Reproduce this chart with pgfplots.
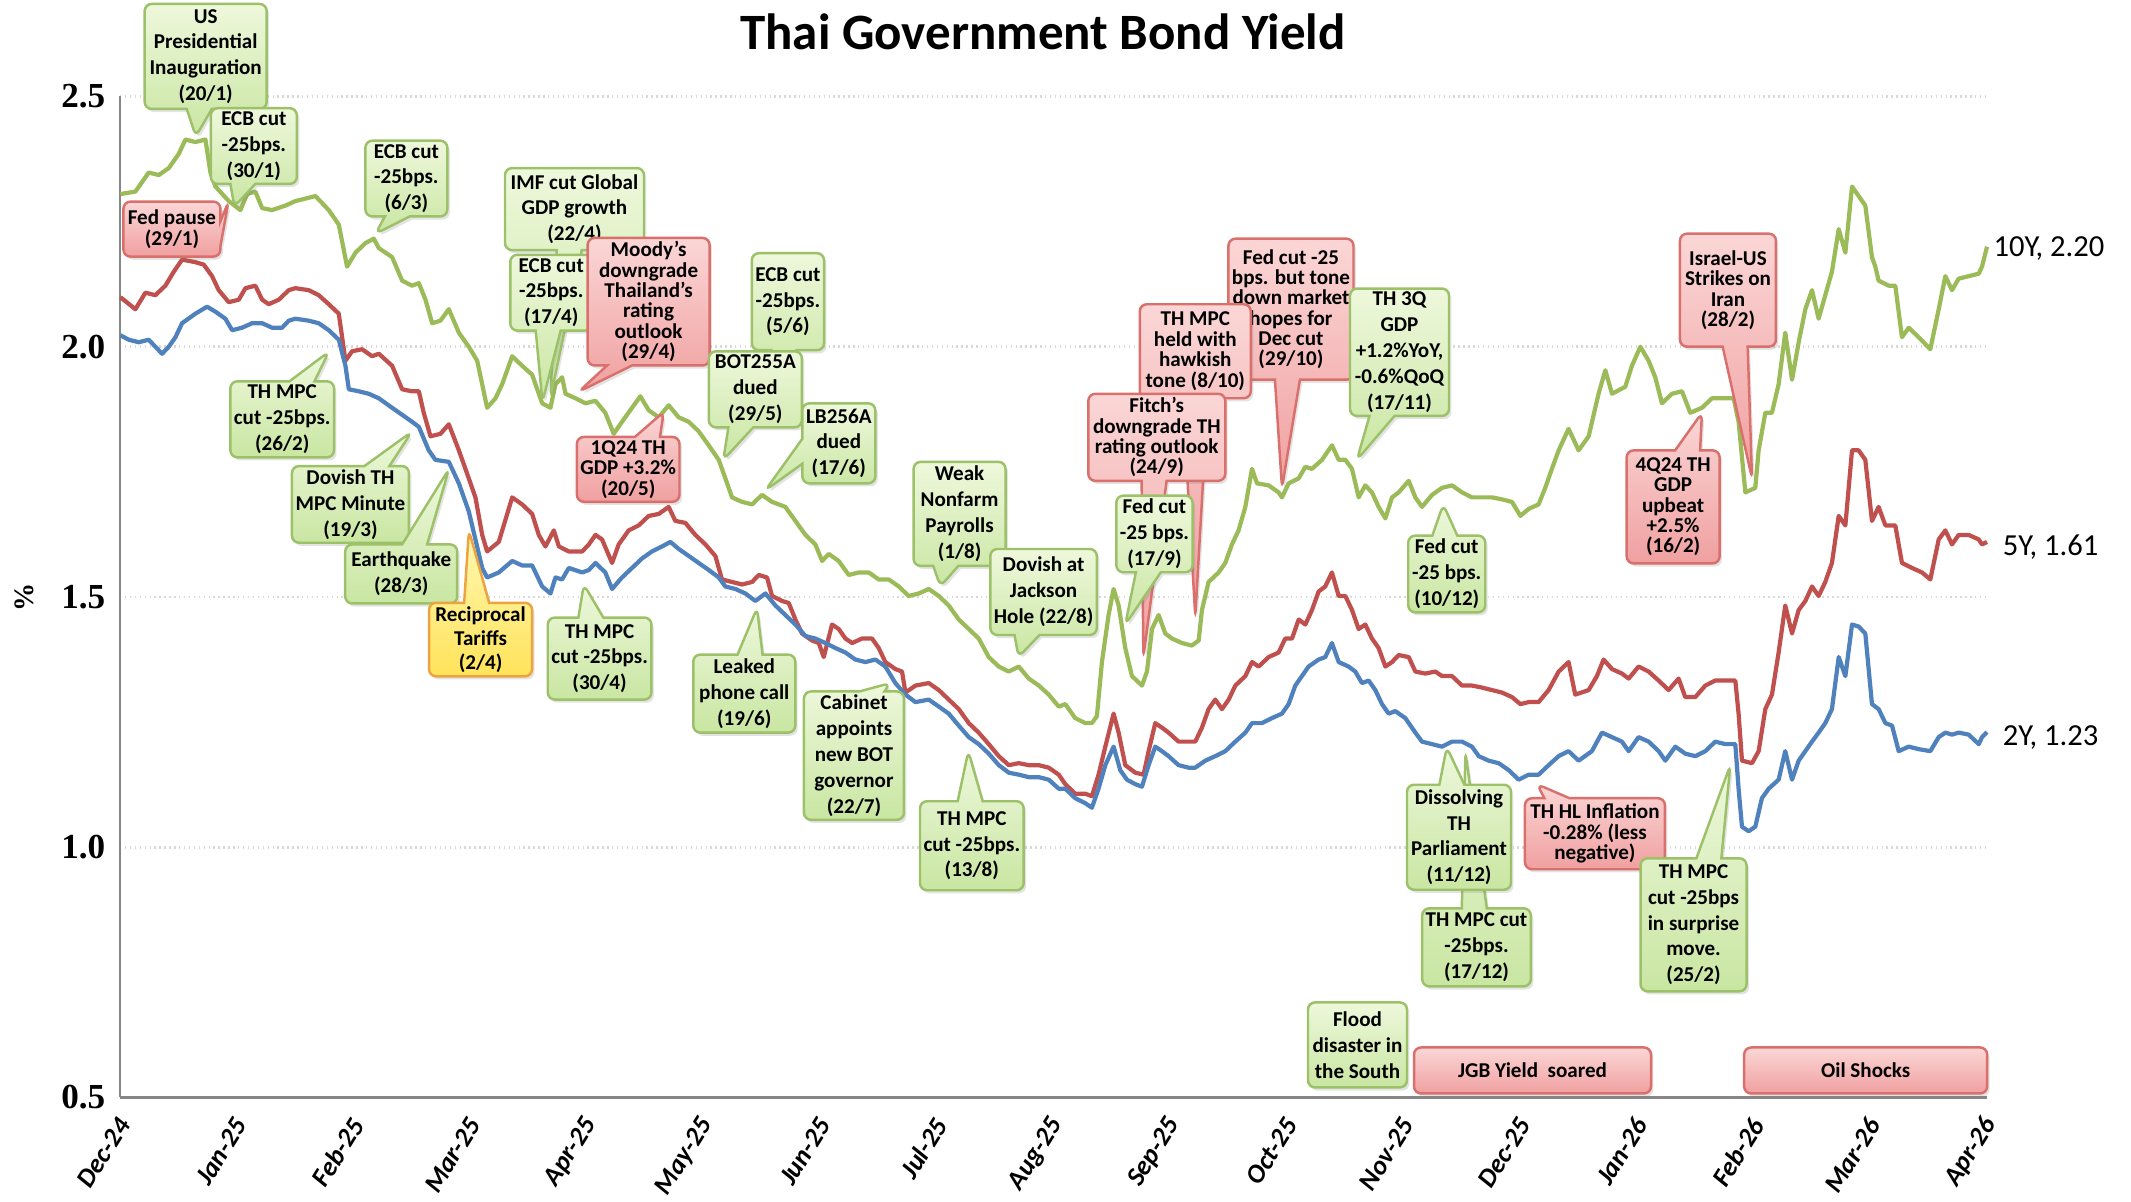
\documentclass[border=0pt]{standalone}
\usepackage{fontspec}
\setmainfont{Carlito}
\newfontfamily\tickserif{Liberation Serif}
\usepackage{pgfplots}
\pgfplotsset{compat=1.18}
\usetikzlibrary{shapes.callouts,shadows}

\definecolor{c10}{HTML}{9BBB59}
\definecolor{c5}{HTML}{C0504D}
\definecolor{c2}{HTML}{4F81BD}
\definecolor{gtop}{HTML}{EEF8DC}
\definecolor{gbot}{HTML}{C9E6A2}
\definecolor{gbd}{HTML}{9CC169}
\definecolor{rtop}{HTML}{FBD6D6}
\definecolor{rbot}{HTML}{F0A0A0}
\definecolor{rbd}{HTML}{D9706C}
\definecolor{ytop}{HTML}{FFF8B5}
\definecolor{ybot}{HTML}{FFE35A}
\definecolor{ybd}{HTML}{EDA33F}
\definecolor{gridc}{HTML}{D9D9D9}
\definecolor{axc}{HTML}{868686}

\tikzset{
 base/.style={rounded corners=2pt, line width=0.7pt, align=center, inner sep=1pt,
   drop shadow={shadow xshift=0.7pt, shadow yshift=-0.9pt, opacity=0.22}},
 gsty/.style={base, draw=gbd, top color=gtop, bottom color=gbot, font=\fontsize{6}{7.35}\selectfont\bfseries},
 rsty/.style={base, draw=rbd, top color=rtop, bottom color=rbot, font=\fontsize{6}{5.8}\selectfont\bfseries},
 ysty/.style={base, draw=ybd, top color=ytop, bottom color=ybot, font=\fontsize{6}{6.9}\selectfont\bfseries},
}
\newcommand\annG[5]{\node[gsty,rectangle callout,minimum width=#1cm,minimum height=#2cm,callout absolute pointer={(axis cs:#3)}] at (axis cs:#4) {#5};}
\newcommand\annR[5]{\node[rsty,rectangle callout,minimum width=#1cm,minimum height=#2cm,callout absolute pointer={(axis cs:#3)}] at (axis cs:#4) {#5};}
\newcommand\annY[5]{\node[ysty,rectangle callout,minimum width=#1cm,minimum height=#2cm,callout absolute pointer={(axis cs:#3)}] at (axis cs:#4) {#5};}
\newcommand\boxG[4]{\node[gsty,rectangle,minimum width=#1cm,minimum height=#2cm] at (axis cs:#3) {#4};}
\newcommand\boxR[4]{\node[rsty,rectangle,minimum width=#1cm,minimum height=#2cm] at (axis cs:#3) {#4};}

\begin{document}
\begin{tikzpicture}
\path[use as bounding box] (-1.20,-1.04) rectangle (20.11,10.975);
\begin{axis}[
  at={(0,0)}, anchor=south west,
  scale only axis, width=18.67cm, height=10.01cm,
  xmin=0, xmax=16, ymin=0.5, ymax=2.5,
  axis x line*=bottom, axis y line*=left,
  axis line style={draw=axc, line width=0.8pt},
  xtick={0,1,...,16},
  xticklabels={Dec-24,Jan-25,Feb-25,Mar-25,Apr-25,May-25,Jun-25,Jul-25,Aug-25,Sep-25,Oct-25,Nov-25,Dec-25,Jan-26,Feb-26,Mar-26,Apr-26},
  ytick={0.5,1,1.5,2,2.5},
  yticklabels={0.5,1.0,1.5,2.0,2.5},
  major tick length=0pt,
  ymajorgrids, grid style={densely dotted, gridc, line width=0.8pt},
  xticklabel style={xshift=1.5pt, yshift=-6pt, rotate=58, anchor=east, font=\fontsize{7.6}{7.6}\selectfont\bfseries\itshape, inner sep=0.5pt},
  yticklabel style={font=\tickserif\bfseries\fontsize{10}{10}\selectfont, inner sep=1pt, xshift=-3pt},
  ylabel={\%}, ylabel style={at={(axis description cs:-0.051,0.5)}, anchor=center, font=\tickserif\bfseries\fontsize{8}{8}\selectfont},
  clip=false,
  every axis plot/.append style={line width=1.2pt, line join=round, mark=none},
]
% 10Y
\addplot[c10] coordinates {
(0.003,2.305)(0.132,2.310)(0.246,2.348)(0.332,2.343)(0.418,2.357)(0.503,2.385)(0.561,2.414)(0.646,2.409)(0.732,2.414)(0.775,2.348)(0.818,2.320)(0.932,2.291)(1.032,2.273)(1.089,2.305)(1.160,2.310)(1.218,2.277)(1.303,2.273)(1.418,2.282)(1.503,2.291)(1.589,2.296)(1.675,2.301)(1.789,2.273)(1.875,2.244)(1.946,2.160)(2.018,2.188)(2.103,2.207)(2.175,2.216)(2.218,2.197)(2.332,2.179)(2.418,2.132)(2.503,2.122)(2.561,2.127)(2.618,2.094)(2.675,2.047)(2.746,2.052)(2.818,2.075)(2.904,2.028)(2.989,2.000)(3.061,1.972)(3.104,1.925)(3.146,1.878)(3.218,1.897)(3.275,1.925)(3.361,1.981)(3.446,1.962)(3.532,1.944)(3.618,1.887)(3.689,1.878)(3.732,1.925)(3.789,1.939)(3.818,1.906)(3.904,1.897)(3.989,1.887)
(4.074,1.892)(4.159,1.868)(4.231,1.826)(4.302,1.850)(4.388,1.878)(4.459,1.901)(4.531,1.873)(4.617,1.859)(4.702,1.883)(4.788,1.859)(4.874,1.850)(4.959,1.831)(5.045,1.803)(5.131,1.774)(5.188,1.737)(5.245,1.699)(5.331,1.690)(5.417,1.685)(5.502,1.704)(5.588,1.690)(5.702,1.680)(5.788,1.652)(5.874,1.624)(5.959,1.605)(6.017,1.572)(6.074,1.586)(6.159,1.572)(6.245,1.544)(6.331,1.549)(6.417,1.549)(6.502,1.535)(6.588,1.535)(6.674,1.521)(6.759,1.502)(6.845,1.507)(6.931,1.516)(7.017,1.502)(7.102,1.483)(7.188,1.455)(7.274,1.436)(7.359,1.417)(7.445,1.380)(7.531,1.361)(7.617,1.351)(7.702,1.361)(7.788,1.337)(7.874,1.323)(7.959,1.305)(8.045,1.281)
(8.101,1.286)(8.186,1.258)(8.272,1.248)(8.329,1.248)(8.372,1.262)(8.415,1.370)(8.472,1.464)(8.515,1.516)(8.558,1.483)(8.615,1.398)(8.672,1.342)(8.758,1.323)(8.801,1.351)(8.844,1.436)(8.901,1.464)(8.958,1.427)(9.015,1.417)(9.101,1.408)(9.186,1.403)(9.244,1.413)(9.272,1.474)(9.329,1.530)(9.415,1.549)(9.472,1.568)(9.529,1.605)(9.586,1.633)(9.644,1.680)(9.701,1.756)(9.744,1.727)(9.844,1.723)(9.929,1.709)(9.958,1.699)(10.015,1.727)(10.101,1.737)(10.158,1.760)(10.215,1.756)(10.301,1.774)(10.386,1.803)(10.444,1.774)(10.501,1.774)(10.558,1.756)(10.615,1.699)(10.672,1.723)(10.729,1.709)(10.786,1.680)(10.844,1.657)(10.901,1.699)(10.958,1.709)(11.044,1.732)(11.101,1.699)(11.158,1.680)(11.244,1.704)(11.329,1.718)(11.415,1.723)(11.501,1.709)(11.586,1.699)(11.672,1.699)(11.758,1.699)(11.844,1.695)(11.929,1.690)(12.001,1.662)(12.072,1.676)
(12.157,1.685)(12.214,1.718)(12.271,1.756)(12.329,1.793)(12.414,1.836)(12.500,1.793)(12.586,1.821)(12.671,1.906)(12.729,1.953)(12.786,1.906)(12.900,1.920)(12.957,1.962)(13.029,2.000)(13.100,1.972)(13.157,1.939)(13.214,1.887)(13.300,1.906)(13.386,1.911)(13.457,1.868)(13.557,1.878)(13.643,1.897)(13.729,1.897)(13.829,1.897)(13.871,1.850)(13.929,1.709)(14.014,1.718)(14.043,1.793)(14.100,1.868)(14.157,1.868)(14.214,1.925)(14.271,2.028)(14.329,1.934)(14.386,2.009)(14.443,2.075)(14.500,2.113)(14.557,2.056)(14.614,2.103)(14.671,2.150)(14.729,2.235)(14.786,2.188)(14.843,2.320)(14.900,2.301)(14.957,2.282)(15.014,2.179)(15.043,2.160)(15.071,2.132)(15.157,2.122)(15.214,2.122)(15.271,2.019)(15.329,2.038)(15.414,2.019)(15.514,1.995)(15.586,2.075)(15.643,2.141)(15.700,2.113)(15.757,2.136)(15.843,2.141)(15.929,2.146)(15.957,2.160)(16.000,2.200)
};
% 5Y
\addplot[c5] coordinates {
(0.003,2.099)(0.132,2.075)(0.218,2.108)(0.303,2.103)(0.389,2.122)(0.461,2.150)(0.532,2.174)(0.646,2.169)(0.718,2.164)(0.789,2.141)(0.846,2.113)(0.932,2.089)(1.018,2.094)(1.075,2.117)(1.160,2.122)(1.218,2.094)(1.275,2.085)(1.361,2.094)(1.446,2.113)(1.503,2.117)(1.618,2.113)(1.703,2.103)(1.789,2.085)(1.875,2.066)(1.932,1.972)(1.989,1.991)(2.075,1.995)(2.160,1.981)(2.218,1.986)(2.332,1.962)(2.418,1.915)(2.503,1.911)(2.561,1.911)(2.603,1.868)(2.661,1.821)(2.746,1.826)(2.818,1.845)(2.904,1.793)(2.989,1.737)(3.046,1.699)(3.104,1.624)(3.146,1.591)(3.246,1.610)(3.361,1.699)(3.446,1.685)(3.532,1.666)(3.589,1.624)(3.646,1.601)(3.718,1.633)(3.761,1.601)(3.846,1.591)(3.961,1.591)(4.018,1.605)(4.075,1.624)
(4.131,1.615)(4.217,1.568)(4.274,1.605)(4.359,1.633)(4.445,1.643)(4.531,1.662)(4.617,1.666)(4.702,1.680)(4.759,1.652)(4.845,1.648)(4.931,1.624)(5.017,1.605)(5.102,1.582)(5.159,1.535)(5.245,1.530)(5.331,1.525)(5.417,1.530)(5.474,1.544)(5.545,1.539)(5.588,1.502)(5.674,1.492)(5.731,1.488)(5.788,1.455)(5.845,1.427)(5.931,1.413)(5.988,1.408)(6.031,1.380)(6.102,1.445)(6.159,1.436)(6.217,1.417)(6.274,1.408)(6.359,1.417)(6.445,1.417)(6.502,1.398)(6.559,1.370)(6.645,1.356)(6.702,1.351)(6.731,1.309)(6.817,1.323)(6.931,1.328)(7.017,1.314)(7.102,1.295)(7.188,1.276)(7.274,1.248)(7.359,1.229)(7.445,1.206)(7.531,1.182)(7.617,1.164)(7.702,1.168)(7.788,1.164)(7.874,1.164)(7.959,1.159)(8.045,1.145)
(8.101,1.126)(8.186,1.107)(8.272,1.107)(8.329,1.102)(8.386,1.145)(8.444,1.201)(8.515,1.267)(8.558,1.229)(8.615,1.164)(8.701,1.149)(8.772,1.145)(8.815,1.192)(8.872,1.248)(8.929,1.239)(8.986,1.229)(9.072,1.211)(9.158,1.211)(9.215,1.211)(9.272,1.239)(9.329,1.276)(9.386,1.295)(9.444,1.276)(9.501,1.295)(9.558,1.323)(9.644,1.342)(9.701,1.370)(9.758,1.361)(9.844,1.380)(9.929,1.389)(9.986,1.417)(10.044,1.417)(10.101,1.455)(10.158,1.445)(10.215,1.474)(10.272,1.511)(10.329,1.521)(10.386,1.549)(10.444,1.502)(10.501,1.502)(10.558,1.474)(10.615,1.436)(10.672,1.445)(10.729,1.417)(10.786,1.398)(10.844,1.361)(10.901,1.370)(10.958,1.384)(11.044,1.380)(11.101,1.351)(11.186,1.347)(11.272,1.351)(11.329,1.342)(11.415,1.342)(11.501,1.323)(11.586,1.323)(11.672,1.319)(11.758,1.314)(11.844,1.309)(11.929,1.300)(12.001,1.286)(12.072,1.290)
(12.157,1.290)(12.243,1.314)(12.329,1.351)(12.414,1.370)(12.471,1.305)(12.586,1.314)(12.657,1.342)(12.714,1.375)(12.786,1.356)(12.871,1.347)(12.929,1.337)(13.014,1.361)(13.100,1.351)(13.186,1.333)(13.271,1.314)(13.357,1.337)(13.414,1.300)(13.500,1.300)(13.586,1.323)(13.671,1.333)(13.757,1.333)(13.843,1.333)(13.871,1.267)(13.900,1.173)(13.986,1.168)(14.043,1.192)(14.100,1.276)(14.157,1.305)(14.214,1.389)(14.271,1.483)(14.329,1.427)(14.386,1.474)(14.443,1.492)(14.500,1.521)(14.557,1.502)(14.614,1.530)(14.671,1.568)(14.729,1.662)(14.786,1.643)(14.843,1.793)(14.900,1.793)(14.957,1.774)(15.014,1.652)(15.071,1.680)(15.129,1.643)(15.214,1.643)(15.271,1.568)(15.357,1.558)(15.443,1.549)(15.514,1.535)(15.586,1.615)(15.643,1.633)(15.700,1.605)(15.757,1.624)(15.843,1.624)(15.929,1.615)(15.957,1.605)(16.000,1.610)
};
% 2Y
\addplot[c2] coordinates {
(0.003,2.023)(0.075,2.014)(0.161,2.009)(0.246,2.014)(0.303,2.000)(0.361,1.986)(0.418,2.000)(0.475,2.019)(0.532,2.047)(0.646,2.066)(0.746,2.080)(0.818,2.070)(0.903,2.056)(0.961,2.033)(1.046,2.038)(1.132,2.047)(1.218,2.047)(1.303,2.038)(1.389,2.038)(1.446,2.052)(1.503,2.056)(1.618,2.052)(1.703,2.047)(1.789,2.033)(1.875,2.014)(1.932,1.962)(1.961,1.915)(2.046,1.911)(2.132,1.906)(2.218,1.897)(2.332,1.878)(2.418,1.864)(2.503,1.850)(2.561,1.840)(2.646,1.793)(2.703,1.774)(2.818,1.770)(2.904,1.727)(2.989,1.671)(3.046,1.615)(3.104,1.558)(3.146,1.539)(3.246,1.549)(3.361,1.572)(3.446,1.563)(3.532,1.563)(3.618,1.521)(3.689,1.507)(3.732,1.539)(3.789,1.535)(3.846,1.558)(3.961,1.549)(4.018,1.554)(4.075,1.568)
(4.159,1.549)(4.217,1.516)(4.302,1.539)(4.388,1.558)(4.474,1.577)(4.559,1.591)(4.645,1.601)(4.717,1.610)(4.788,1.596)(4.874,1.582)(4.959,1.568)(5.045,1.554)(5.131,1.539)(5.188,1.521)(5.274,1.516)(5.359,1.507)(5.445,1.492)(5.531,1.507)(5.617,1.483)(5.702,1.464)(5.788,1.445)(5.874,1.422)(5.959,1.417)(6.045,1.408)(6.131,1.398)(6.217,1.389)(6.302,1.375)(6.388,1.370)(6.474,1.375)(6.559,1.361)(6.645,1.328)(6.731,1.305)(6.817,1.290)(6.931,1.295)(7.017,1.281)(7.102,1.267)(7.188,1.243)(7.274,1.220)(7.359,1.206)(7.445,1.187)(7.531,1.164)(7.617,1.149)(7.702,1.145)(7.788,1.140)(7.874,1.140)(7.959,1.135)(8.045,1.117)
(8.101,1.117)(8.186,1.098)(8.272,1.088)(8.329,1.079)(8.386,1.117)(8.444,1.164)(8.515,1.201)(8.572,1.154)(8.629,1.135)(8.701,1.126)(8.758,1.121)(8.815,1.164)(8.872,1.201)(8.929,1.192)(8.986,1.182)(9.072,1.164)(9.158,1.159)(9.215,1.159)(9.301,1.173)(9.386,1.182)(9.472,1.192)(9.558,1.211)(9.644,1.229)(9.701,1.248)(9.786,1.248)(9.872,1.258)(9.958,1.267)(10.015,1.286)(10.072,1.323)(10.129,1.342)(10.186,1.361)(10.272,1.375)(10.329,1.380)(10.386,1.408)(10.444,1.370)(10.529,1.361)(10.586,1.351)(10.644,1.328)(10.701,1.333)(10.758,1.314)(10.815,1.286)(10.872,1.267)(10.929,1.272)(11.015,1.258)(11.101,1.229)(11.158,1.211)(11.244,1.206)(11.329,1.201)(11.415,1.211)(11.501,1.211)(11.586,1.201)(11.644,1.182)(11.729,1.173)(11.815,1.168)(11.901,1.154)(11.986,1.135)(12.072,1.145)
(12.157,1.145)(12.243,1.164)(12.329,1.182)(12.414,1.192)(12.500,1.173)(12.614,1.192)(12.700,1.229)(12.786,1.220)(12.871,1.211)(12.929,1.192)(13.014,1.220)(13.100,1.211)(13.186,1.192)(13.243,1.173)(13.329,1.201)(13.414,1.187)(13.500,1.182)(13.586,1.192)(13.671,1.211)(13.757,1.206)(13.843,1.206)(13.871,1.117)(13.900,1.041)(13.957,1.032)(14.014,1.041)(14.071,1.098)(14.129,1.117)(14.214,1.135)(14.271,1.192)(14.329,1.135)(14.386,1.173)(14.443,1.192)(14.500,1.211)(14.557,1.229)(14.614,1.248)(14.671,1.276)(14.729,1.380)(14.786,1.342)(14.843,1.445)(14.900,1.441)(14.957,1.427)(15.014,1.286)(15.071,1.276)(15.129,1.248)(15.186,1.243)(15.243,1.192)(15.329,1.201)(15.414,1.196)(15.514,1.192)(15.586,1.220)(15.643,1.229)(15.700,1.225)(15.757,1.229)(15.843,1.225)(15.929,1.206)(15.957,1.220)(16.000,1.230)
};

% title and end labels
\node[font=\fontsize{14.5}{16}\selectfont\bfseries] at (axis cs:7.91,2.63) {Thai Government Bond Yield};
\node[anchor=west, inner sep=1pt, font=\fontsize{8.7}{9}\selectfont] at (axis cs:16.02,2.196) {10Y, 2.20};
\node[anchor=west, inner sep=1pt, font=\fontsize{8.7}{9}\selectfont] at (axis cs:16.1,1.60) {5Y, 1.61};
\node[anchor=west, inner sep=1pt, font=\fontsize{8.7}{9}\selectfont] at (axis cs:16.1,1.22) {2Y, 1.23};

% annotations
\annG{1.22}{1.05}{0.65,2.42}{0.734,2.58}{US\\Presidential\\Inauguration\\(20/1)}
\annG{0.86}{0.75}{0.98,2.28}{1.147,2.401}{ECB cut\\-25bps.\\(30/1)}
\annR{0.97}{0.55}{0.93,2.29}{0.445,2.235}{Fed pause\\(29/1)}
\annG{0.82}{0.73}{2.19,2.226}{2.454,2.336}{ECB cut\\-25bps.\\(6/3)}
\annG{1.39}{0.82}{3.69,1.90}{3.895,2.275}{IMF cut Global\\GDP growth\\(22/4)}
\annG{0.82}{0.71}{3.62,1.89}{3.696,2.108}{ECB cut\\-25bps.\\(17/4)}
\annR{1.22}{1.22}{3.93,1.91}{4.53,2.09}{Moody's\\downgrade\\Thailand's\\rating\\outlook\\(29/4)}
\annR{1.02}{0.61}{4.66,1.87}{4.355,1.755}{1Q24 TH\\GDP +3.2\%\\(20/5)}
\annG{1.03}{0.76}{1.79,1.99}{1.39,1.855}{TH MPC\\cut -25bps.\\(26/2)}
\annG{1.17}{0.75}{2.50,1.83}{1.975,1.685}{Dovish TH\\MPC Minute\\(19/3)}
\annG{1.12}{0.59}{2.82,1.756}{2.41,1.546}{Earthquake\\(28/3)}
\annY{1.03}{0.73}{2.99,1.633}{3.09,1.415}{Reciprocal\\Tariffs\\(2/4)}
\annG{1.01}{0.82}{3.975,1.525}{4.11,1.377}{TH MPC\\cut -25bps.\\(30/4)}
\annG{0.72}{0.97}{5.6,1.93}{5.724,2.09}{ECB cut\\-25bps.\\(5/6)}
\annG{0.93}{0.76}{5.17,1.774}{5.445,1.915}{BOT255A\\dued\\(29/5)}
\annG{0.73}{0.80}{5.53,1.713}{6.16,1.807}{LB256A\\dued\\(17/6)}
\annG{1.02}{0.78}{5.459,1.478}{5.35,1.307}{Leaked\\phone call\\(19/6)}
\annG{1.00}{1.23}{6.602,1.328}{6.29,1.183}{Cabinet\\appoints\\new BOT\\governor\\(22/7)}
\annG{1.03}{0.89}{7.27,1.192}{7.30,1.003}{TH MPC\\cut -25bps.\\(13/8)}
\annG{0.92}{1.04}{7.03,1.521}{7.195,1.666}{Weak\\Nonfarm\\Payrolls\\(1/8)}
\annG{1.06}{0.86}{7.70,1.38}{7.915,1.51}{Dovish at\\Jackson\\Hole (22/8)}
\annR{1.18}{1.41}{9.958,1.718}{10.035,2.075}{Fed cut -25\\bps. but tone\\down market\\hopes for\\Dec cut\\(29/10)}
\annR{1.11}{0.94}{9.215,1.46}{9.215,1.991}{TH MPC\\held with\\hawkish\\tone (8/10)}
\annR{1.37}{0.87}{8.77,1.38}{8.885,1.819}{Fitch's\\downgrade TH\\rating outlook\\(24/9)}
\annG{0.76}{0.73}{8.615,1.445}{8.865,1.626}{Fed cut\\-25 bps.\\(17/9)}
\annG{0.99}{1.25}{10.60,1.774}{10.965,1.989}{TH 3Q\\GDP\\+1.2\%YoY,\\-0.6\%QoQ\\(17/11)}
\annG{0.77}{0.73}{11.34,1.685}{11.37,1.546}{Fed cut\\-25 bps.\\(10/12)}
\annG{1.06}{0.78}{11.53,1.19}{11.625,0.80}{TH MPC cut\\-25bps.\\(17/12)}
\annG{1.04}{1.05}{11.37,1.20}{11.475,1.02}{Dissolving\\TH\\Parliament\\(11/12)}
\annR{1.40}{0.71}{12.143,1.126}{12.64,1.027}{TH HL Inflation\\-0.28\% (less\\negative)}
\annG{1.06}{1.33}{13.80,1.164}{13.485,0.845}{TH MPC\\cut -25bps\\in surprise\\move.\\(25/2)}
\annR{0.93}{1.13}{13.557,1.868}{13.31,1.68}{4Q24 TH\\GDP\\upbeat\\+2.5\%\\(16/2)}
\annR{0.96}{1.13}{13.986,1.737}{13.78,2.113}{Israel-US\\Strikes on\\Iran\\(28/2)}
\boxG{0.99}{0.85}{10.605,0.605}{Flood\\disaster in\\the South}
\boxR{2.37}{0.46}{12.105,0.554}{JGB Yield~~soared}
\boxR{2.43}{0.46}{14.96,0.554}{Oil Shocks}
\end{axis}
\end{tikzpicture}
\end{document}
